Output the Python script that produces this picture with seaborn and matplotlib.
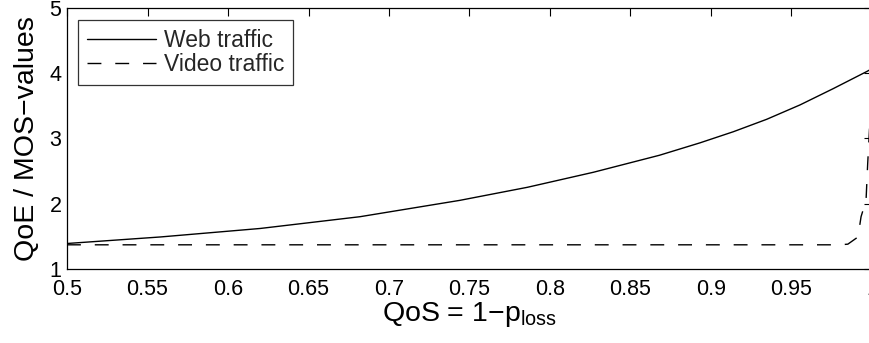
import matplotlib
matplotlib.use("Agg")
import matplotlib.pyplot as plt
import seaborn as sns
import pandas as pd

# ---- data ----
web_qos = [0.50, 0.558, 0.62, 0.682, 0.744, 0.786, 0.827, 0.868, 0.8932, 0.9139, 0.9346, 0.9553, 0.976, 0.9967, 1.00]
web_mos = [1.39, 1.49, 1.62, 1.80, 2.05, 2.25, 2.48, 2.74, 2.93, 3.10, 3.29, 3.51, 3.76, 4.02, 4.065]

video_qos = [0.50, 0.60, 0.70, 0.80, 0.90, 0.98, 0.985, 0.9913, 0.9932, 0.9963, 0.9973, 0.9988, 1.00]
video_mos = [1.37, 1.37, 1.37, 1.37, 1.37, 1.37, 1.38, 1.49, 1.80, 2.05, 2.60, 3.30, 4.30]

series_names = ["Web traffic", "Video traffic"]
x_ticks = [0.5, 0.55, 0.6, 0.65, 0.7, 0.75, 0.8, 0.85, 0.9, 0.95, 1]
x_tick_labels = ["0.5", "0.55", "0.6", "0.65", "0.7", "0.75", "0.8", "0.85", "0.9", "0.95", "1"]
y_ticks = [1, 2, 3, 4, 5]

df = pd.concat([
    pd.DataFrame({"qos": web_qos, "mos": web_mos, "series": series_names[0]}),
    pd.DataFrame({"qos": video_qos, "mos": video_mos, "series": series_names[1]}),
])

sns.set_theme(style="white")
plt.rcParams["font.family"] = ["Liberation Sans", "DejaVu Sans"]

W, H = 870, 343
fig = plt.figure(figsize=(W / 100, H / 100), dpi=100)
ax = fig.add_axes([67 / W, (H - 269) / H, (872 - 67) / W, (269 - 7.5) / H])

sns.lineplot(data=df, x="qos", y="mos", hue="series", style="series",
             palette=["black", "black"], dashes=[(None, None), (10, 10)],
             linewidth=1.0, ax=ax, legend=False, sort=False, estimator=None)

for line, name in zip(ax.get_lines(), series_names):
    line.set_label(name)

ax.set_xlim(0.5, 1.0)
ax.set_ylim(1, 5)
ax.set_xticks(x_ticks)
ax.set_xticklabels(x_tick_labels)
ax.set_yticks(y_ticks)
ax.tick_params(direction="in", length=5.5, width=0.8, top=True, right=True,
               labelsize=15.5, colors="black")
ax.tick_params(axis="x", pad=7)
ax.tick_params(axis="y", pad=4)
for s in ax.spines.values():
    s.set_visible(True)
    s.set_color("black")
    s.set_linewidth(0.9)

ax.set_xlabel("QoS = 1\u2212$\\mathregular{p_{loss}}$", fontsize=20.5, labelpad=0, color="black")
ax.set_ylabel("QoE / MOS\u2212values", fontsize=20.5, labelpad=7, color="black")

leg = ax.legend(loc="upper left", bbox_to_anchor=((78 - 67) / 805, (269 - 20) / 261.5),
                borderaxespad=0, fontsize=16.5, handlelength=3.0, handletextpad=0.35,
                frameon=True, fancybox=False, borderpad=0.4, labelspacing=0.05)
leg.get_frame().set_edgecolor("black")
leg.get_frame().set_linewidth(0.9)

fig.savefig("out.png", dpi=100)
